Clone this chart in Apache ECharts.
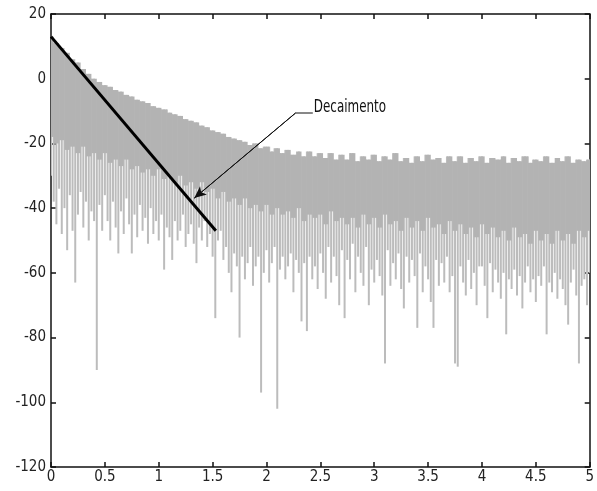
<!DOCTYPE html>
<html>
<head>
<meta charset="utf-8">
<script src="https://cdn.jsdelivr.net/npm/echarts@6/dist/echarts.min.js"></script>
<style>
html,body{margin:0;padding:0;background:#fff;}
#chart{width:597px;height:491px;}
</style>
</head>
<body>
<div id="chart"></div>
<script>
// ---- data ----
const xTickLabels = ['0','0.5','1','1.5','2','2.5','3','3.5','4','4.5','5'];
const yTickLabels = ['-120','-100','-80','-60','-40','-20','0','20'];

// dense band of the signal, sampled every 0.05 s from t = 0 to t = 5
const bandStep = 0.05;
const bandTop = [
  13, 11, 9.5, 8, 6, 5, 3, 1.5, 0, -1,
  -2, -2.5, -3.5, -4, -5, -5.5, -6.5, -7, -7.5, -8.5,
  -9, -9.5, -10.5, -11, -11.5, -12.5, -13, -13.5, -14.5, -15,
  -16, -16.5, -17, -18, -18.5, -19, -19.5, -20.5, -20, -21.5,
  -21, -22.5, -21.5, -23, -22, -23.5, -22.5, -24, -22.5, -24,
  -23, -24.5, -23, -25, -23.5, -25, -23, -25.5, -24, -25,
  -23.5, -25.5, -24, -25, -23, -25.5, -24.5, -26, -24, -25.5,
  -23.5, -25, -24.5, -26, -24, -25.5, -24, -26, -24.5, -25.5,
  -24, -26, -24.5, -25, -24, -26, -24.5, -25.5, -24, -26,
  -25, -25.5, -24, -26, -24.5, -25.5, -24, -26, -25, -25.5,
  -25
];
const bandBottom = [
  -18, -20, -19, -22, -21, -23, -21, -24, -23, -25,
  -23, -26, -25, -27, -25, -28, -27, -29, -28, -30,
  -28, -31, -30, -32, -30, -33, -32, -34, -32, -35,
  -34, -37, -35, -38, -37, -39, -37, -40, -39, -41,
  -39, -42, -40, -42, -41, -43, -40, -44, -42, -43,
  -42, -45, -41, -44, -43, -45, -43, -46, -42, -45,
  -43, -46, -42, -45, -44, -47, -43, -46, -44, -47,
  -43, -46, -45, -48, -44, -47, -45, -48, -46, -49,
  -45, -48, -46, -49, -47, -50, -46, -49, -48, -51,
  -47, -50, -48, -51, -47, -50, -48, -51, -47, -49,
  -47
];

// lowest point of each downward excursion, sampled every 0.025 s
const troughStep = 0.025;
const troughs = [
  -30,-38,-45,-34,-48,-40,-53,-36,-47,-63,
  -42,-35,-46,-38,-50,-41,-44,-90,-39,-47,
  -36,-44,-50,-38,-46,-54,-41,-48,-37,-45,
  -54,-42,-49,-39,-47,-43,-51,-40,-48,-44,
  -50,-42,-59,-46,-49,-56,-44,-50,-47,-42,
  -52,-48,-45,-51,-57,-46,-50,-44,-52,-48,
  -55,-74,-50,-47,-56,-52,-60,-66,-54,-58,
  -80,-55,-62,-57,-52,-64,-58,-55,-97,-60,
  -53,-63,-57,-52,-102,-59,-55,-62,-58,-54,
  -66,-56,-60,-75,-57,-78,-55,-62,-58,-65,
  -54,-60,-68,-52,-63,-55,-61,-70,-53,-74,
  -56,-62,-51,-66,-55,-60,-64,-52,-70,-59,
  -63,-56,-61,-67,-88,-53,-64,-57,-62,-54,
  -65,-71,-55,-63,-56,-61,-77,-54,-66,-58,
  -62,-69,-77,-56,-64,-57,-63,-55,-66,-61,
  -88,-89,-58,-63,-67,-56,-65,-60,-70,-58,
  -58,-64,-74,-57,-66,-59,-63,-68,-60,-79,
  -62,-65,-59,-67,-61,-71,-63,-58,-66,-62,
  -69,-61,-64,-58,-79,-63,-66,-60,-68,-62,
  -65,-70,-76,-63,-59,-67,-88,-64,-62,-70,
  -60
];

// decay line (black)
const decayLine = [[0, 13], [1.53, -47]];

// annotation
const annotationText = 'Decaimento';
const annotationLabelAt = [2.43, -10.6];
const annotationElbow = [2.27, -10.6];
const annotationTip = [1.33, -36.9];

// ---- build series data ----
const bandData = bandTop.map((v, i) => [i * bandStep, v, bandBottom[i]]);
const troughData = troughs.map((v, i) => {
  const t = i * troughStep;
  const bi = Math.min(bandTop.length - 1, Math.round(t / bandStep));
  return [t, bandTop[bi], v];
});

const FONT = "'DejaVu Sans Condensed', 'Liberation Sans', sans-serif";
const axisCommon = {
  type: 'value',
  axisLine: { show: true, onZero: false, lineStyle: { color: '#111', width: 1.5 } },
  axisTick: { show: true, inside: true, length: 5, lineStyle: { color: '#111', width: 1.5 } },
  splitLine: { show: false }
};

const chart = echarts.init(document.getElementById('chart'), null, { renderer: 'canvas' });
chart.setOption({
  animation: false,
  backgroundColor: '#fff',
  grid: { left: 51, right: 3, top: 14, bottom: 24, containLabel: false },
  xAxis: [
    Object.assign({}, axisCommon, {
      position: 'bottom', min: 0, max: 5, interval: 0.5,
      axisLabel: { show: true, margin: 3, fontSize: 15, color: '#222', fontFamily: FONT,
        formatter: (v) => { const s = String(Math.round(v * 10) / 10); return xTickLabels.includes(s) ? s : ''; } }
    }),
    Object.assign({}, axisCommon, {
      position: 'top', min: 0, max: 5, interval: 0.5,
      axisLabel: { show: false }
    })
  ],
  yAxis: [
    Object.assign({}, axisCommon, {
      position: 'left', min: -120, max: 20, interval: 20,
      axisLabel: { show: true, margin: 5, fontSize: 15, color: '#222', fontFamily: FONT,
        formatter: (v) => { const s = String(v); return yTickLabels.includes(s) ? s : ''; } }
    }),
    Object.assign({}, axisCommon, {
      position: 'right', min: -120, max: 20, interval: 20,
      axisLabel: { show: false }
    })
  ],
  series: [
    {
      type: 'custom',
      name: 'troughs',
      clip: true,
      data: troughData,
      renderItem: function (params, api) {
        const p1 = api.coord([api.value(0), api.value(1)]);
        const p2 = api.coord([api.value(0), api.value(2)]);
        return {
          type: 'line',
          shape: { x1: p1[0], y1: p1[1], x2: p2[0], y2: p2[1] },
          style: { stroke: '#bcbcbc', lineWidth: 2 }
        };
      },
      z: 1
    },
    {
      type: 'custom',
      name: 'band',
      clip: true,
      data: bandData,
      renderItem: function (params, api) {
        const x = api.value(0);
        const a = api.coord([x - bandStep / 2, api.value(1)]);
        const b = api.coord([x + bandStep / 2, api.value(2)]);
        return {
          type: 'rect',
          shape: { x: a[0], y: a[1], width: b[0] - a[0], height: b[1] - a[1] },
          style: { fill: '#b3b3b3' }
        };
      },
      z: 2
    },
    {
      type: 'line',
      name: 'decay',
      data: decayLine,
      symbol: 'none',
      lineStyle: { color: '#000', width: 3 },
      z: 5
    },
    {
      type: 'line',
      name: 'annotation',
      data: [annotationLabelAt, annotationElbow, annotationTip],
      symbol: 'none',
      lineStyle: { color: '#111', width: 1 },
      markLine: {
        silent: true,
        symbol: ['none', 'arrow'],
        symbolSize: [8, 12],
        lineStyle: { color: '#111', width: 1, type: 'solid' },
        label: { show: false },
        data: [[{ coord: annotationElbow }, { coord: annotationTip }]]
      },
      z: 6
    },
    {
      type: 'custom',
      name: 'annotationText',
      data: [annotationLabelAt],
      renderItem: function (params, api) {
        const p = api.coord([api.value(0), api.value(1)]);
        return {
          type: 'text',
          x: p[0] + 1,
          y: p[1] - 5,
          scaleX: 0.78,
          style: {
            text: annotationText,
            fontSize: 17,
            fontFamily: FONT,
            fill: '#111',
            textAlign: 'left',
            textVerticalAlign: 'middle'
          }
        };
      },
      z: 7
    }
  ]
});
</script>
</body>
</html>
